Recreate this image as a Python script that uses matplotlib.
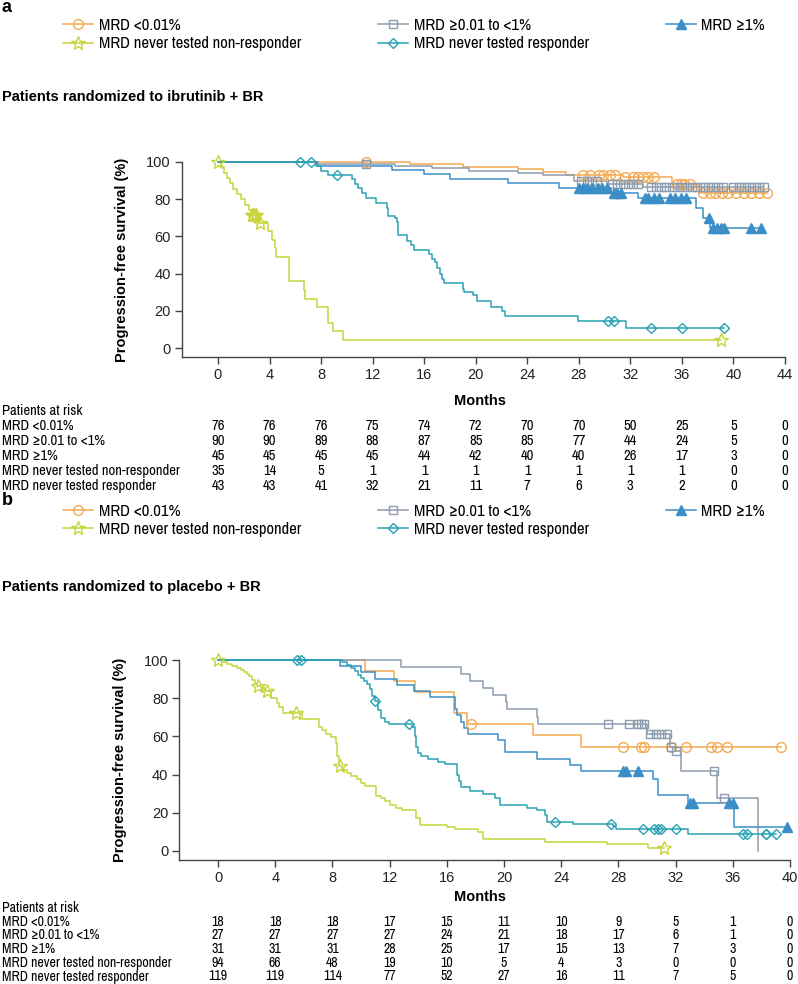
# PFS by MRD status, ibrutinib + BR (a) and placebo + BR (b)
import numpy as np
import matplotlib
matplotlib.use('Agg')
import matplotlib.pyplot as plt
from matplotlib import font_manager
from matplotlib.lines import Line2D
from matplotlib.transforms import blended_transform_factory

names = {f.name for f in font_manager.fontManager.ttflist}
plt.rcParams['font.family'] = ['Liberation Sans', 'DejaVu Sans']
narrow = 'Archivo Narrow'
for cand in ['Liberation Sans Narrow', 'Arial Narrow', 'Archivo Narrow']:
    if cand in names:
        narrow = cand
        break
NARROW = [narrow, 'Liberation Sans', 'DejaVu Sans']

ORANGE = '#F4AA52'
GRAY = '#8D9DAF'
BLUE = '#3B8EC6'
GREEN = '#C6D53C'
TEAL = '#2AA2B3'

groups = ['MRD <0.01%', 'MRD \u22650.01 to <1%', 'MRD \u22651%',
          'MRD never tested non-responder', 'MRD never tested responder']

# ---- panel a: ibrutinib + BR ----
a_orange_t = [14.9, 19.0, 23.3, 25.2, 27.0, 31.4, 35.2, 37.3]
a_orange_s = [98.7, 97.4, 96.0, 94.6, 93.2, 91.7, 88.4, 83.3]
a_orange_c = [11.5, 28.3, 28.9, 29.6, 29.9, 30.4, 30.8, 31.6, 32.2, 32.6, 33.0, 33.4, 33.8,
              35.6, 35.9, 36.2, 36.6, 37.6, 38.2, 38.6, 39.1, 39.6, 40.2, 40.8, 41.4, 42.0, 42.6]
a_orange_end = 42.6

a_gray_t = [7.8, 13.7, 16.6, 19.5, 23.3, 25.2, 27.6, 30.2, 33.0]
a_gray_s = [98.9, 97.8, 96.6, 95.4, 94.2, 93.0, 89.7, 88.4, 86.3]
a_gray_c = [11.5, 28.2, 28.6, 29.0, 29.4, 30.6, 31.0, 31.4, 31.8, 32.2, 32.6, 33.6, 34.0, 34.4,
            34.8, 35.2, 35.6, 36.0, 36.4, 36.8, 37.2, 37.6, 38.0, 38.4, 38.8, 39.2, 40.0, 40.4,
            40.8, 41.2, 41.6, 42.0, 42.4]
a_gray_end = 42.4

a_blue_t = [7.7, 13.5, 16.0, 18.0, 22.5, 26.5, 30.5, 32.6, 37.1, 37.6, 38.2]
a_blue_s = [97.8, 95.6, 93.3, 91.1, 88.9, 86.0, 83.6, 80.7, 75.5, 70.0, 64.4]
a_blue_c = [28.0, 28.3, 28.6, 29.0, 29.5, 29.8, 30.2, 30.7, 31.0, 31.3, 33.1, 33.4, 33.8, 34.2,
            35.1, 35.5, 35.9, 36.3, 38.1, 38.4, 38.7, 39.0, 39.3, 41.4, 42.1]
a_blue_end = 42.3

a_green_t = [0.2, 0.5, 0.7, 0.9, 1.2, 1.5, 1.8, 2.1, 2.4, 2.6, 3.1, 3.9, 4.2, 4.4, 4.5,
             5.5, 6.65, 6.75, 7.7, 8.5, 8.9, 9.7]
a_green_s = [97.1, 94.3, 91.4, 88.6, 85.7, 82.9, 80.0, 77.1, 74.3, 71.4, 67.2, 62.8, 58.0,
             53.8, 49.0, 35.9, 31.0, 26.6, 22.0, 13.4, 9.0, 4.5]
a_green_c = [0.0, 2.65, 2.75, 2.85, 2.95, 3.25, 39.0]
a_green_end = 39.0

a_teal_t = [7.6, 8.0, 8.5, 10.4, 10.6, 10.9, 11.2, 11.5, 12.27, 13.08, 13.2, 13.74, 13.87,
            13.95, 14.0, 14.7, 14.94, 15.2, 16.4, 16.64, 16.85, 16.97, 17.2, 17.4, 17.5, 19.0,
            19.1, 19.8, 20.1, 21.2, 22.06, 22.3, 27.9, 31.7]
a_teal_s = [97.7, 95.3, 93.0, 90.6, 88.2, 85.8, 83.4, 80.4, 78.0, 75.2, 71.1, 70.0, 67.6,
            63.0, 60.7, 57.5, 55.6, 52.6, 50.6, 47.6, 46.0, 42.8, 40.0, 37.0, 35.1, 31.5,
            29.9, 28.3, 25.1, 22.1, 20.0, 17.2, 14.7, 10.8]
a_teal_c = [6.4, 7.2, 9.2, 30.3, 30.7, 33.6, 36.0, 39.3]
a_teal_end = 39.3

a_risk_times = [0, 4, 8, 12, 16, 20, 24, 28, 32, 36, 40, 44]
a_risk = [[76, 76, 76, 75, 74, 72, 70, 70, 50, 25, 5, 0],
          [90, 90, 89, 88, 87, 85, 85, 77, 44, 24, 5, 0],
          [45, 45, 45, 45, 44, 42, 40, 40, 26, 17, 3, 0],
          [35, 14, 5, 1, 1, 1, 1, 1, 1, 1, 0, 0],
          [43, 43, 41, 32, 21, 11, 7, 6, 3, 2, 0, 0]]

# ---- panel b: placebo + BR ----
b_orange_t = [10.3, 12.3, 13.8, 16.5, 17.4, 22.05, 25.35]
b_orange_s = [94.4, 88.9, 83.3, 72.2, 66.7, 60.6, 54.5]
b_orange_c = [17.7, 28.3, 29.6, 29.8, 31.7, 32.7, 34.5, 34.9, 35.6, 39.4]
b_orange_end = 39.4

b_gray_t = [12.8, 17.0, 17.6, 18.5, 19.26, 20.14, 20.2, 22.3, 22.4, 30.0, 31.6, 31.95,
            32.4, 34.9, 37.75]
b_gray_s = [96.3, 92.6, 88.9, 85.2, 81.5, 77.8, 74.1, 70.4, 66.7, 61.3, 54.5, 52.4,
            42.0, 28.0, 0.0]
b_gray_c = [27.3, 28.75, 29.4, 29.55, 29.8, 30.2, 30.6, 31.0, 31.4, 31.7, 32.05, 34.7, 35.4]
b_gray_end = 37.75

b_blue_t = [8.5, 10.0, 11.0, 12.5, 13.7, 14.8, 16.6, 16.7, 17.0, 17.2, 17.5, 19.6, 20.1,
            22.3, 24.6, 25.4, 30.4, 30.8, 32.9, 36.1]
b_blue_s = [96.8, 93.5, 90.3, 87.1, 83.9, 80.6, 74.2, 71.0, 67.7, 64.5, 61.3, 58.1, 51.6,
            48.4, 45.2, 41.9, 37.7, 29.4, 25.1, 12.6]
b_blue_c = [28.3, 28.5, 29.4, 33.0, 33.2, 35.7, 36.0, 39.8]
b_blue_end = 39.9

b_green_t = [0.3, 0.6, 1.0, 1.3, 1.6, 1.8, 2.0, 2.2, 2.4, 2.6, 2.7, 3.0, 3.3, 3.7, 4.1,
             4.3, 4.55, 5.9, 7.06, 7.3, 7.58, 7.9, 8.25, 8.35, 8.45, 8.65, 9.0, 9.3, 9.7,
             10.0, 10.26, 11.07, 11.4, 11.66, 12.0, 12.47, 12.9, 13.87, 14.1, 16.0, 16.6,
             18.2, 18.56, 22.9, 27.2, 30.07]
b_green_s = [98.9, 97.9, 96.8, 95.7, 94.7, 93.6, 92.6, 91.5, 89.4, 87.2, 86.2, 85.1, 84.0,
             80.3, 77.6, 75.5, 72.5, 69.2, 64.7, 63.2, 61.3, 59.5, 56.5, 50.0, 44.3, 42.3,
             41.0, 39.5, 37.6, 35.6, 34.2, 28.7, 27.5, 26.2, 24.0, 22.6, 21.3, 17.5, 13.8,
             12.5, 11.4, 9.8, 6.4, 4.7, 3.9, 1.4]
b_green_c = [0.0, 2.8, 3.45, 5.48, 8.5, 31.2]
b_green_end = 31.2

b_teal_t = [8.7, 9.0, 9.3, 9.6, 9.8, 10.0, 10.2, 10.4, 10.6, 10.8, 10.95, 11.2, 11.4, 11.7,
            11.95, 13.6, 13.75, 13.85, 14.0, 14.2, 14.7, 15.4, 15.9, 16.7, 16.85, 17.0,
            17.6, 18.5, 19.4, 19.7, 21.6, 22.3, 22.9, 23.0, 24.8, 27.6, 27.8, 32.9]
b_teal_s = [99.2, 97.5, 95.8, 94.1, 92.4, 90.7, 89.0, 87.3, 84.7, 81.2, 78.6, 74.0, 69.4,
            67.4, 66.4, 64.7, 60.0, 54.5, 51.5, 49.5, 48.0, 46.8, 45.7, 40.0, 36.9, 33.5,
            31.5, 30.1, 27.5, 24.0, 22.6, 21.3, 18.6, 15.2, 14.1, 13.2, 11.4, 9.1]
b_teal_c = [5.5, 5.8, 11.0, 13.35, 23.6, 27.5, 29.7, 30.5, 30.8, 30.95, 32.0, 36.7, 37.0,
            38.3, 38.35, 39.0]
b_teal_end = 39.0

b_risk_times = [0, 4, 8, 12, 16, 20, 24, 28, 32, 36, 40]
b_risk = [[18, 18, 18, 17, 15, 11, 10, 9, 5, 1, 0],
          [27, 27, 27, 27, 24, 21, 18, 17, 6, 1, 0],
          [31, 31, 31, 28, 25, 17, 15, 13, 7, 3, 0],
          [94, 66, 48, 19, 10, 5, 4, 3, 0, 0, 0],
          [119, 119, 114, 77, 52, 27, 16, 11, 7, 5, 0]]

styles = [dict(color=ORANGE, marker='o', ms=7, mfc='none'),
          dict(color=GRAY, marker='s', ms=6, mfc='none'),
          dict(color=BLUE, marker='^', ms=7, mfc=BLUE),
          dict(color=GREEN, marker='*', ms=10, mfc='none'),
          dict(color=TEAL, marker='D', ms=5, mfc='none')]

fig = plt.figure(figsize=(7.98, 9.84), dpi=100)
W, H = 798.0, 984.0


def km(ax, t, s, cens, end, st):
    tt = np.concatenate([[0.0], t, [end]])
    ss = np.concatenate([[100.0], s, [s[-1]]])
    ax.step(tt, ss, where='post', color=st['color'], lw=1.1, clip_on=False, zorder=2)
    c = np.asarray(cens)
    idx = np.searchsorted(tt, c, side='right') - 1
    ax.plot(c, ss[idx], ls='none', marker=st['marker'], ms=st['ms'], mfc=st['mfc'],
            mec=st['color'], mew=1.0, clip_on=False, zorder=3)


def panel(letter, top, title, curves, risk_t, risk, xmax, xlo, geom):
    # geom: left px, right px, y of 100, y of 0, y of x spine
    lpx, rpx, y100, y0, yspine = geom
    ax = fig.add_axes([lpx / W, 1 - yspine / H, (rpx - lpx) / W, (yspine - y100) / H])
    for (t, s, c, e), st in zip(curves, styles):
        km(ax, t, s, c, e, st)
    ax.set_xlim(xlo, xmax)
    ylo = -100.0 * (yspine - y0) / (y0 - y100)
    ax.set_ylim(ylo, 100)
    ax.set_xticks(risk_t)
    ax.set_yticks([0, 20, 40, 60, 80, 100])
    for sp in ['top', 'right']:
        ax.spines[sp].set_visible(False)
    for sp in ['left', 'bottom']:
        ax.spines[sp].set_color('#444444')
        ax.spines[sp].set_linewidth(1.0)
    ax.tick_params(colors='#444444', labelcolor='#222222', labelsize=10.5, length=5, width=1.0,
                   pad=3)
    ax.set_ylabel('Progression-free survival (%)', fontsize=10.5, fontweight='bold', labelpad=12)
    ax.set_xlabel('Months', fontsize=10.5, fontweight='bold')
    ax.xaxis.set_label_coords((480 - lpx) / (rpx - lpx), -(top['months'] - yspine) / (yspine - y100))

    fig.text(2 / W, 1 - top['letter'] / H, letter, fontsize=13, fontweight='bold', va='center')
    fig.text(2 / W, 1 - top['title'] / H, title, fontsize=10.5, fontweight='bold', va='center')

    handles = [Line2D([0], [0], color=st['color'], lw=1.1, marker=st['marker'], ms=st['ms'],
                      mfc=st['mfc'], mec=st['color']) for st in styles]
    order = [0, 3, 1, 4, 2]
    fig.legend([handles[i] for i in order], [groups[i] for i in order], ncol=3,
               loc='upper left', bbox_to_anchor=(48 / W, 1 - top['legend'] / H),
               frameon=False, handlelength=1.8, handletextpad=0.35, columnspacing=4.6,
               labelspacing=0.2, prop={'family': NARROW, 'size': 12})

    tr = blended_transform_factory(ax.transData, fig.transFigure)
    fs = top['fs']
    fig.text(2 / W, 1 - top['risk'] / H, 'Patients at risk', fontsize=fs, family=NARROW,
             va='center')
    for r, (lab, row) in enumerate(zip(groups, risk)):
        yy = 1 - (top['risk'] + top['rowgap'] * (r + 1)) / H
        fig.text(2 / W, yy, lab, fontsize=fs, family=NARROW, va='center')
        for x, v in zip(risk_t, row):
            fig.text(x, yy, str(v), fontsize=fs, family=NARROW, va='center', ha='center',
                     transform=tr)
    return ax


curves_a = [(a_orange_t, a_orange_s, a_orange_c, a_orange_end),
            (a_gray_t, a_gray_s, a_gray_c, a_gray_end),
            (a_blue_t, a_blue_s, a_blue_c, a_blue_end),
            (a_green_t, a_green_s, a_green_c, a_green_end),
            (a_teal_t, a_teal_s, a_teal_c, a_teal_end)]
curves_b = [(b_orange_t, b_orange_s, b_orange_c, b_orange_end),
            (b_gray_t, b_gray_s, b_gray_c, b_gray_end),
            (b_blue_t, b_blue_s, b_blue_c, b_blue_end),
            (b_green_t, b_green_s, b_green_c, b_green_end),
            (b_teal_t, b_teal_s, b_teal_c, b_teal_end)]

panel('a', dict(letter=7, legend=3, title=97, months=394, risk=411, rowgap=15, fs=10.5),
      'Patients randomized to ibrutinib + BR', curves_a, a_risk_times, a_risk,
      44, -2.8, (181.9, 785, 162, 348, 357))
panel('b', dict(letter=500, legend=489, title=587, months=890, risk=908, rowgap=13.7, fs=10),
      'Patients randomized to placebo + BR', curves_b, b_risk_times, b_risk,
      40, -2.7, (179.4, 790, 660, 851, 860))

fig.savefig('out.png', dpi=100)
